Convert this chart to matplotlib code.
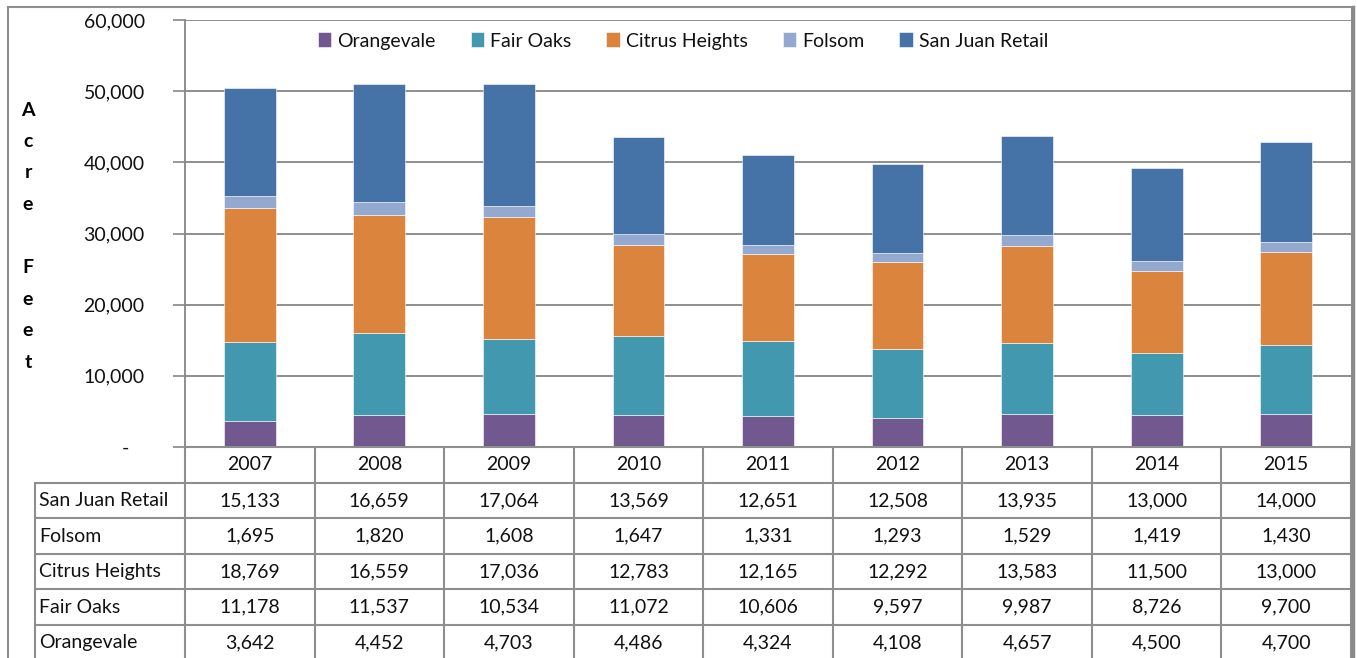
import matplotlib
matplotlib.use('Agg')
import matplotlib.pyplot as plt
from matplotlib.patches import Rectangle
from matplotlib.lines import Line2D
from matplotlib.transforms import blended_transform_factory

plt.rcParams['font.family'] = ['Lato', 'DejaVu Sans']

# ---------------- data ----------------
years = ['2007', '2008', '2009', '2010', '2011', '2012', '2013', '2014', '2015']
series_names = ['Orangevale', 'Fair Oaks', 'Citrus Heights', 'Folsom', 'San Juan Retail']
orangevale = [3642, 4452, 4703, 4486, 4324, 4108, 4657, 4500, 4700]
fair_oaks = [11178, 11537, 10534, 11072, 10606, 9597, 9987, 8726, 9700]
citrus_heights = [18769, 16559, 17036, 12783, 12165, 12292, 13583, 11500, 13000]
folsom = [1695, 1820, 1608, 1647, 1331, 1293, 1529, 1419, 1430]
san_juan_retail = [15133, 16659, 17064, 13569, 12651, 12508, 13935, 13000, 14000]
y_ticks = [0, 10000, 20000, 30000, 40000, 50000, 60000]
y_label_letters = ['A', 'c', 'r', 'e', '', 'F', 'e', 'e', 't']

series_values = [orangevale, fair_oaks, citrus_heights, folsom, san_juan_retail]
colors = ['#71588F', '#4198AF', '#DB843D', '#93A9CF', '#4572A7']
grid_col = '#868686'
line_col = '#8E8E8E'
text_col = '#111111'
FS = 14

# ---------------- layout (pixels) ----------------
W, H = 1357, 658
fig = plt.figure(figsize=(W / 100, H / 100), dpi=100)
L, R, T, B = 185, 1351, 20, 447
ax = fig.add_axes([L / W, 1 - B / H, (R - L) / W, (B - T) / H])

x = list(range(len(years)))
bottom = [0] * len(years)
for name, vals, c in zip(series_names, series_values, colors):
    ax.bar(x, vals, width=0.4, bottom=bottom, color=c, label=name,
           edgecolor='white', linewidth=0.4, zorder=3)
    bottom = [b + v for b, v in zip(bottom, vals)]

ax.set_xlim(-0.5, len(years) - 0.5)
ax.set_ylim(0, 60000)
ax.set_yticks(y_ticks)
ax.set_yticklabels(['-   ' if v == 0 else f'{v:,}' for v in y_ticks],
                   fontsize=FS, color=text_col)
ax.tick_params(axis='y', length=9, width=1.2, color=grid_col, pad=20)
ax.set_xticks([])
ax.yaxis.grid(True, color=grid_col, linewidth=1.3, zorder=0)
ax.set_axisbelow(True)
for s in ['top', 'right', 'bottom']:
    ax.spines[s].set_visible(False)
ax.spines['left'].set_color(grid_col)
ax.spines['left'].set_linewidth(1.3)

# legend
fig.legend(loc='center', bbox_to_anchor=(683 / W, 1 - 41 / H), ncol=5,
           frameon=False, fontsize=FS, handlelength=0.7, handleheight=0.8,
           handletextpad=0.3, columnspacing=1.8, labelcolor=text_col)

# y label letters
for i, ch in enumerate(y_label_letters):
    if ch:
        fig.text(28 / W, 1 - (110 + i * 31.5) / H, ch, fontsize=FS, fontweight='bold',
                 ha='center', va='center', color='#000000')

# ---------------- data table ----------------
tr = blended_transform_factory(ax.transData, fig.transFigure)
ftr = fig.transFigure
row_h = 35.6
header_top = B
row_tops = [header_top + row_h * k for k in range(7)]  # header + 5 rows + bottom
table_rows = [('San Juan Retail', san_juan_retail), ('Folsom', folsom),
              ('Citrus Heights', citrus_heights), ('Fair Oaks', fair_oaks),
              ('Orangevale', orangevale)]

def fyp(py):
    return 1 - py / H

lw = 1.5
fig.add_artist(Line2D([L / W, R / W], [fyp(header_top)] * 2, transform=ftr,
                      color=line_col, lw=lw))
for k in range(1, 7):
    fig.add_artist(Line2D([35 / W, R / W], [fyp(row_tops[k])] * 2, transform=ftr,
                          color=line_col, lw=lw))
fig.add_artist(Line2D([35 / W, 35 / W], [fyp(row_tops[1]), fyp(row_tops[6])],
                      transform=ftr, color=line_col, lw=lw))
fig.add_artist(Line2D([L / W, L / W], [fyp(header_top), fyp(row_tops[6])],
                      transform=ftr, color=line_col, lw=lw))
for i in range(len(years)):
    xr = i + 0.5
    fig.add_artist(Line2D([xr, xr], [fyp(header_top), fyp(row_tops[6])],
                          transform=tr, color=line_col, lw=lw))

for i, yr in enumerate(years):
    fig.text(i, fyp(header_top + row_h / 2), yr, transform=tr, ha='center',
             va='center', fontsize=FS, color=text_col)
for r, (name, vals) in enumerate(table_rows):
    yc = fyp(row_tops[r + 1] + row_h / 2)
    fig.text(39 / W, yc, name, ha='left', va='center', fontsize=FS, color=text_col)
    for i, v in enumerate(vals):
        fig.text(i, yc, f'{v:,}', transform=tr, ha='center', va='center',
                 fontsize=FS, color=text_col)

# outer border
fig.add_artist(Rectangle((8 / W, -0.01), (1352 - 8) / W, fyp(6.5) + 0.01,
                         transform=ftr, fill=False, edgecolor=line_col, lw=1.5))
fig.add_artist(Line2D([1352.5 / W] * 2, [0, fyp(6.5)], transform=ftr,
                      color='#8A8A8A', lw=2.5))

fig.savefig('out.png', dpi=100, facecolor='white')
